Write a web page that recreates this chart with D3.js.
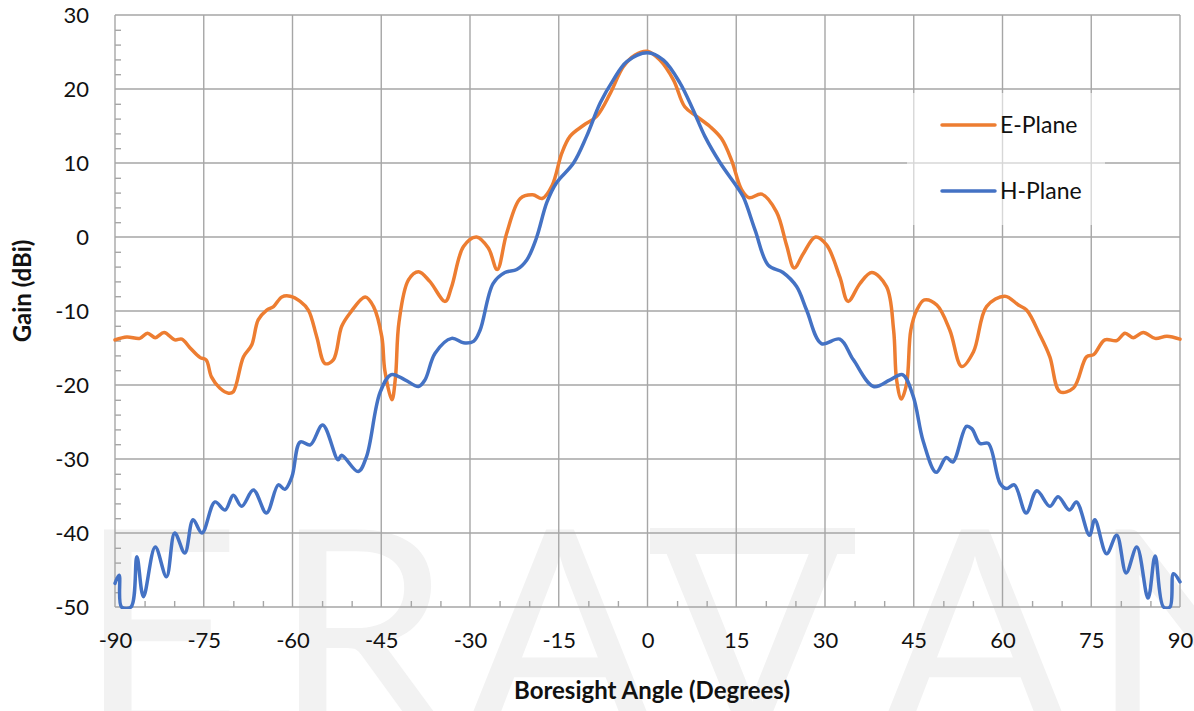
<!DOCTYPE html>
<html><head><meta charset="utf-8">
<script src="https://cdn.jsdelivr.net/npm/d3@7/dist/d3.min.js"></script>
<style>body{margin:0;background:#fff}svg{display:block}</style>
</head><body>
<svg id="chart" width="1194" height="711"></svg>
<script>
// ---------- data ----------
const eAngles = [-90,-88,-85.8,-84.5,-83.2,-81.7,-79.9,-78.7,-77.3,-75.6,-74.6,-73.7,-72.3,-70.8,-70,-68.3,-66.9,-65.8,-64.4,-63.2,-61.8,-60.4,-58.7,-57.3,-55.9,-54.5,-53.1,-51.7,-50.3,-47.7,-46.3,-44.9,-44.4,-43.2,-42.6,-42.0,-40.4,-38.7,-36.8,-34.2,-33.1,-31.1,-28.9,-26.9,-25.4,-23.8,-21.5,-19.4,-17.8,-16.1,-14.5,-13.1,-10.8,-8.6,-6.3,-4.1,-2.1,0,2.1,4.4,6.3,8.3,10.6,12.5,14.2,15.9,17.2,19.3,21.8,23.5,24.8,26.3,28.4,30.3,32.5,33.9,35.9,37.9,40.4,41.6,42.1,42.9,43.8,44.5,45.5,46.8,48.9,51.1,53.1,55.1,57.3,60.4,62.7,64.1,66.3,68.0,69.7,72.0,74.2,75.4,77.3,79.3,80.7,82.1,83.8,85.8,87.8,90];
const eGain = [-13.9,-13.5,-13.7,-13.0,-13.6,-12.9,-13.9,-13.8,-15.0,-16.3,-16.6,-18.9,-20.4,-21.1,-20.9,-16.2,-14.6,-11.2,-9.9,-9.4,-8.1,-8.0,-8.7,-9.9,-13.5,-17.1,-16.6,-12.1,-10.3,-8.1,-9.4,-13.5,-18.0,-22.0,-19.0,-11.5,-5.8,-4.7,-6.0,-8.7,-6.7,-1.3,0.0,-1.5,-4.4,0.5,5.2,5.7,5.2,7.0,11.3,13.6,15.1,16.3,19.4,23.0,24.6,25.1,23.9,21.2,17.6,16.3,14.9,13.3,10.4,6.4,5.3,5.8,3.4,-1.1,-4.2,-2.3,0.0,-1.1,-5.4,-8.7,-6.3,-4.8,-6.7,-12.6,-19.3,-21.9,-19.8,-12.6,-9.9,-8.5,-9.2,-12.6,-17.5,-15.5,-9.4,-8.0,-9.2,-9.9,-13.2,-16.2,-20.9,-20.4,-16.2,-15.9,-13.9,-14.0,-13.0,-13.6,-12.9,-13.7,-13.4,-13.8];

const hAngles = [-90,-89.3,-88.9,-87.3,-86.3,-85.2,-83.2,-81.3,-79.9,-78.2,-76.8,-75.3,-73.1,-71.4,-70.0,-68.6,-66.6,-64.4,-62.4,-61.3,-60.1,-58.7,-57.0,-54.9,-52.3,-51.7,-48.9,-47.5,-45.2,-43.3,-41.0,-38.7,-37.6,-35.9,-33.1,-31.1,-29.4,-28.3,-26.1,-24.1,-22.1,-20.4,-18.8,-17.0,-15.4,-12.5,-10.3,-8.0,-5.8,-3.5,0,2.7,5.5,7.7,9.7,12.3,15.1,16.2,18.2,20.4,22.9,25.2,26.9,29.4,32.5,34.8,38.2,41.0,43.1,44.9,46.6,48.8,50.5,51.6,53.9,54.8,56.2,57.6,59.6,60.7,62.0,64.0,65.8,68.0,69.4,71.3,72.5,74.7,75.6,77.6,79.3,80.9,82.7,84.6,85.8,87.2,88.3,88.9,90];
const hGain = [-46.8,-45.7,-50,-50,-43.2,-48.6,-41.9,-45.9,-40.0,-42.7,-38.2,-40.0,-35.8,-36.9,-34.9,-36.4,-34.2,-37.3,-33.5,-34.1,-32.4,-27.7,-28.1,-25.4,-30.1,-29.5,-31.7,-29.7,-21.0,-18.6,-19.3,-20.2,-19.3,-15.7,-13.7,-14.3,-14.1,-12.6,-6.3,-4.8,-4.4,-3.1,-0.2,4.7,7.3,10.0,13.6,18.1,21.2,23.7,24.9,23.9,20.8,17.2,13.6,10.0,6.8,5.4,0.9,-3.8,-4.8,-6.7,-9.9,-14.4,-13.8,-16.6,-20.2,-19.3,-18.6,-21.5,-27.6,-31.8,-29.8,-30.4,-25.6,-25.9,-27.9,-27.9,-33.3,-34.0,-33.5,-37.3,-34.3,-36.4,-35.1,-36.9,-35.8,-40.3,-38.2,-42.8,-40.3,-45.4,-41.9,-48.8,-43.1,-50,-50,-45.5,-46.6];

const xTicks = [-90,-75,-60,-45,-30,-15,0,15,30,45,60,75,90];
const yTicks = [30,20,10,0,-10,-20,-30,-40,-50];
const seriesNames = ["E-Plane","H-Plane"];
const seriesColors = ["#ED7D31","#4472C4"];
const xTitle = "Boresight Angle (Degrees)";
const yTitle = "Gain (dBi)";
const watermark = ["E","R","A","V","A","N"];

// ---------- chart ----------
const svg = d3.select("#chart");
const L=115,R=1180,T=15,B=607;
const x = d3.scaleLinear().domain([-90,90]).range([L,R]);
const y = d3.scaleLinear().domain([-50,30]).range([B,T]);
const gridColor = "#a6a6a6";
const font = "Lato, 'Open Sans', sans-serif";
const fmt = d => String(d);

// watermark
const wmX = [160,362,560,752,975,1198];
const wm = svg.append("g").attr("fill","#f2f2f2");
wm.selectAll("text").data(watermark).join("text")
  .attr("x",(d,i)=>wmX[i]).attr("y",733)
  .attr("text-anchor","middle")
  .style("font-family",font).style("font-size","284px").style("font-weight",400)
  .text(d=>d);
wm.append("rect").attr("x",650).attr("y",528).attr("width",205).attr("height",26);

// gridlines
svg.append("g").selectAll("line").data(xTicks).join("line")
  .attr("x1",d=>x(d)).attr("x2",d=>x(d)).attr("y1",T).attr("y2",B)
  .attr("stroke",gridColor).attr("stroke-width",1.4);
svg.append("g").selectAll("line").data(yTicks).join("line")
  .attr("y1",d=>y(d)).attr("y2",d=>y(d)).attr("x1",L).attr("x2",R)
  .attr("stroke",gridColor).attr("stroke-width",1.4);

// minor ticks (inside)
const xMinor = d3.range(-90,91,5).filter(v=>v%15!==0);
const yMinor = d3.range(-50,31,2).filter(v=>v%10!==0);
const xm = svg.append("g").attr("transform",`translate(0,${B})`)
  .call(d3.axisTop(x).tickValues(xMinor).tickSize(6).tickFormat(""));
const ym = svg.append("g").attr("transform",`translate(${L},0)`)
  .call(d3.axisRight(y).tickValues(yMinor).tickSize(6).tickFormat(""));
[xm,ym].forEach(g=>{g.select(".domain").remove();g.selectAll("line").attr("stroke",gridColor).attr("stroke-width",1.4);});

// tick labels
const xa = svg.append("g").attr("transform",`translate(0,${B})`)
  .call(d3.axisBottom(x).tickValues(xTicks).tickSize(0).tickPadding(25).tickFormat(fmt));
const ya = svg.append("g").attr("transform",`translate(${L},0)`)
  .call(d3.axisLeft(y).tickValues(yTicks).tickSize(0).tickPadding(26).tickFormat(fmt));
[xa,ya].forEach(g=>{g.select(".domain").remove();
  g.selectAll("text").style("font-family",font).style("font-size","22px").attr("fill","#111");});
ya.selectAll("text").attr("dy","0.36em");

// titles
svg.append("text").attr("x",652).attr("y",699).attr("text-anchor","middle")
  .style("font-family",font).style("font-size","24px").style("font-weight",700).attr("fill","#111").text(xTitle);
svg.append("text").attr("transform","translate(31,291) rotate(-90)").attr("text-anchor","middle")
  .style("font-family",font).style("font-size","24px").style("font-weight",700).attr("fill","#111").text(yTitle);

// clip
svg.append("clipPath").attr("id","plotclip").append("rect")
  .attr("x",L-3).attr("y",T-4).attr("width",R-L+6).attr("height",B-T+6);

const line = d3.line().x(d=>x(d[0])).y(d=>y(d[1])).curve(d3.curveCatmullRom.alpha(0.5));
const series = [d3.zip(eAngles,eGain), d3.zip(hAngles,hGain)];
const lines = svg.append("g").attr("clip-path","url(#plotclip)");
lines.selectAll("path").data(series).join("path")
  .attr("d",line).attr("fill","none")
  .attr("stroke",(d,i)=>seriesColors[i]).attr("stroke-width",3.5)
  .attr("stroke-linejoin","round").attr("stroke-linecap","round");

// legend
const lg = svg.append("g");
lg.append("rect").attr("x",907).attr("y",93).attr("width",198).attr("height",132)
  .attr("fill","#fff").attr("fill-opacity",0.55);
const legY = [125,191];
seriesNames.forEach((n,i)=>{
  lg.append("line").attr("x1",942).attr("x2",995).attr("y1",legY[i]).attr("y2",legY[i])
    .attr("stroke",seriesColors[i]).attr("stroke-width",3.5).attr("stroke-linecap","round");
  lg.append("text").attr("x",1000).attr("y",legY[i]).attr("dy","0.36em")
    .style("font-family",font).style("font-size","23px").attr("fill","#111").text(n);
});
</script>
</body></html>
